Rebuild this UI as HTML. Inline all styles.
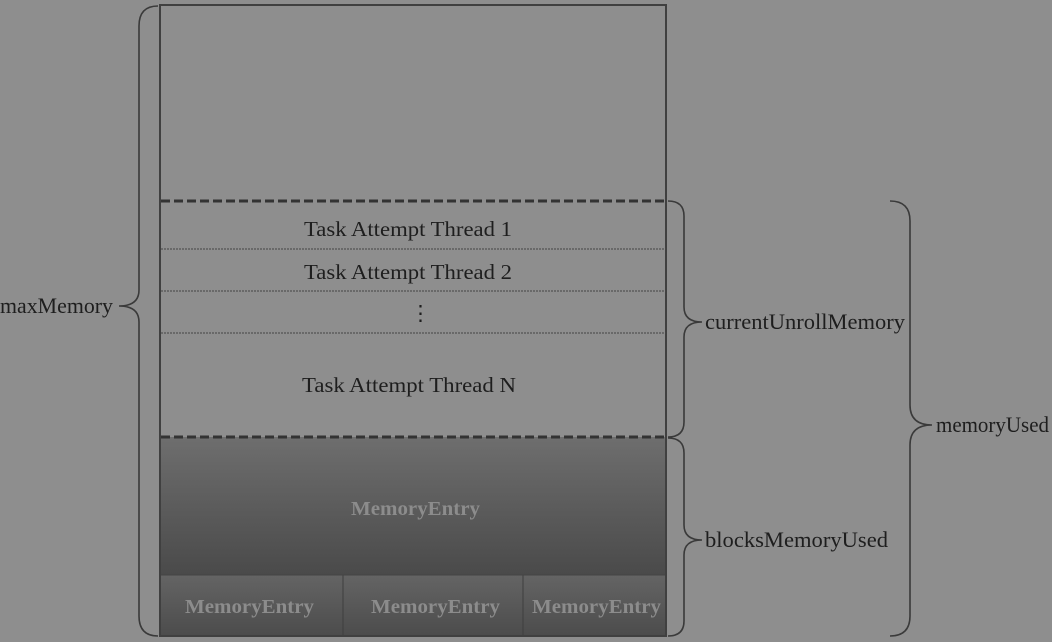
<!DOCTYPE html>
<html><head><meta charset="utf-8"><style>
html,body{margin:0;padding:0;background:#8e8e8e;}
svg{display:block;}
text{font-family:"Liberation Serif",serif;}
</style></head><body>
<svg width="1052" height="642" viewBox="0 0 1052 642">
<defs>
<linearGradient id="g1" x1="0" y1="0" x2="0" y2="1">
<stop offset="0" stop-color="#6e6e6e"/><stop offset="1" stop-color="#4a4a4a"/>
</linearGradient>
<linearGradient id="g2" x1="0" y1="0" x2="0" y2="1">
<stop offset="0" stop-color="#646464"/><stop offset="1" stop-color="#4c4c4c"/>
</linearGradient>
</defs>
<rect width="1052" height="642" fill="#8e8e8e"/>
<rect x="161" y="437" width="505" height="138" fill="url(#g1)"/>
<rect x="161" y="575" width="182" height="61" fill="url(#g2)"/>
<rect x="343" y="575" width="180" height="61" fill="url(#g2)"/>
<rect x="523" y="575" width="143" height="61" fill="url(#g2)"/>
<line x1="343" y1="575" x2="343" y2="636" stroke="#3e3e3e" stroke-width="1"/>
<line x1="523" y1="575" x2="523" y2="636" stroke="#3e3e3e" stroke-width="1"/>
<line x1="161" y1="575" x2="666" y2="575" stroke="#444" stroke-width="1"/>
<rect x="160" y="5" width="506" height="631" fill="none" stroke="#404040" stroke-width="2"/>
<line x1="161" y1="201" x2="666" y2="201" stroke="#333" stroke-width="3" stroke-dasharray="9,4"/>
<line x1="161" y1="437" x2="666" y2="437" stroke="#333" stroke-width="3" stroke-dasharray="9,4"/>
<line x1="161" y1="249" x2="666" y2="249" stroke="#444" stroke-width="1" stroke-dasharray="2,1"/>
<line x1="161" y1="291" x2="666" y2="291" stroke="#444" stroke-width="1" stroke-dasharray="2,1"/>
<line x1="161" y1="333" x2="666" y2="333" stroke="#444" stroke-width="1" stroke-dasharray="2,1"/>
<g fill="#1e1e1e" font-size="21">
<text x="304" y="236" textLength="208" lengthAdjust="spacingAndGlyphs">Task Attempt Thread 1</text>
<text x="304" y="279" textLength="208" lengthAdjust="spacingAndGlyphs">Task Attempt Thread 2</text>
<text x="410" y="320">⋮</text>
<text x="302" y="392" textLength="214" lengthAdjust="spacingAndGlyphs">Task Attempt Thread N</text>
</g>
<g fill="#8c8c8c" font-size="20" font-weight="bold">
<text x="351" y="515" textLength="129" lengthAdjust="spacingAndGlyphs">MemoryEntry</text>
<text x="185" y="613" textLength="129" lengthAdjust="spacingAndGlyphs">MemoryEntry</text>
<text x="371" y="613" textLength="129" lengthAdjust="spacingAndGlyphs">MemoryEntry</text>
<text x="532" y="613" textLength="129" lengthAdjust="spacingAndGlyphs">MemoryEntry</text>
</g>
<g fill="none" stroke="#3a3a3a" stroke-width="1.6">
<path d="M158 6 Q139 6 139 26 L139 290 Q139 306 119 306 Q139 306 139 322 L139 616 Q139 636 158 636"/>
<path d="M668 201 Q684 201 684 216 L684 307 Q684 322 702 322 Q684 322 684 337 L684 422 Q684 437 668 437"/>
<path d="M668 438 Q684 438 684 453 L684 525 Q684 540 702 540 Q684 540 684 555 L684 621 Q684 636 668 636"/>
<path d="M890 201 Q910 201 910 221 L910 405 Q910 425 932 425 Q910 425 910 445 L910 616 Q910 636 890 636"/>
</g>
<g fill="#1e1e1e" font-size="22">
<text x="0" y="313" textLength="113" lengthAdjust="spacingAndGlyphs">maxMemory</text>
<text x="705" y="329" textLength="200" lengthAdjust="spacingAndGlyphs">currentUnrollMemory</text>
<text x="705" y="547" textLength="183" lengthAdjust="spacingAndGlyphs">blocksMemoryUsed</text>
<text x="936" y="432" textLength="113" lengthAdjust="spacingAndGlyphs">memoryUsed</text>
</g>
</svg>
</body></html>
